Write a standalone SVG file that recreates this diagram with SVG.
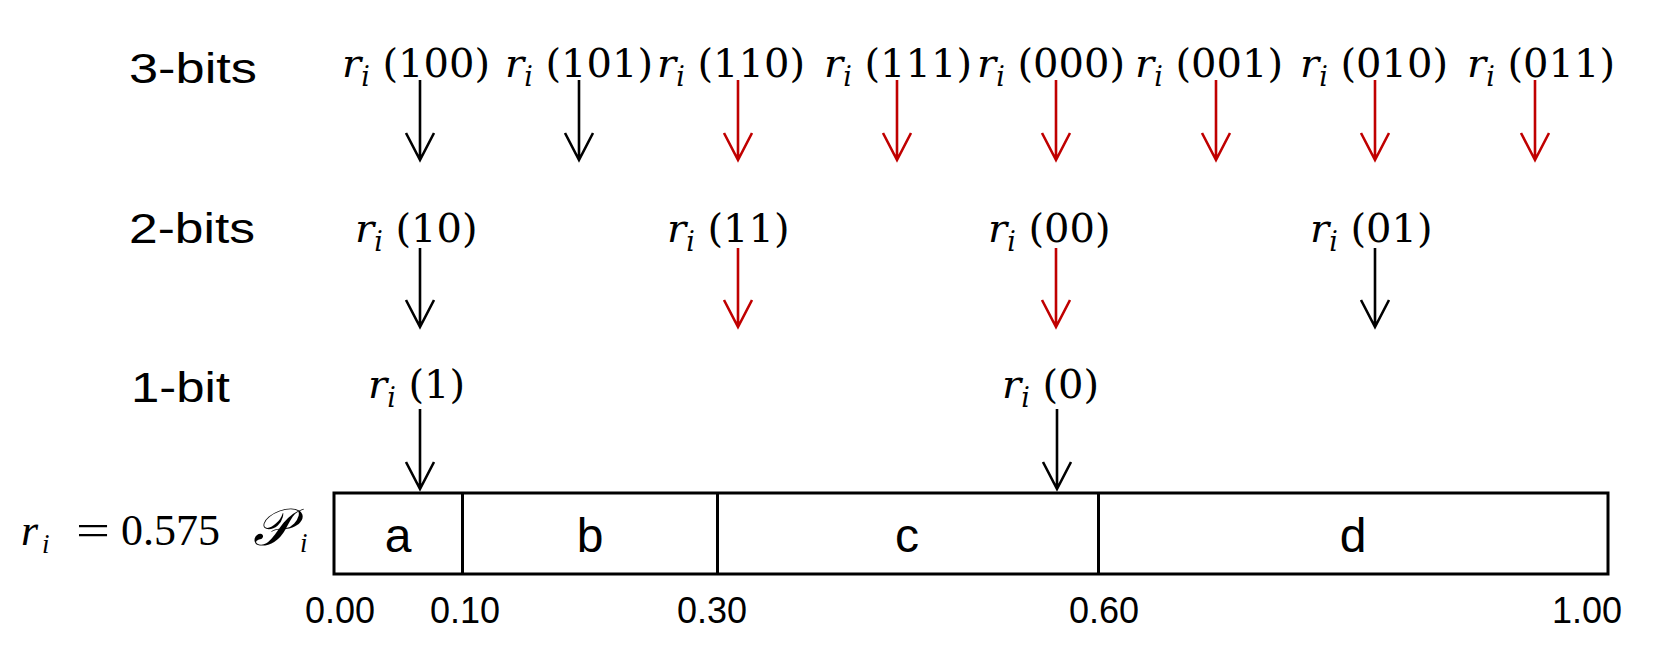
<svg xmlns="http://www.w3.org/2000/svg" width="1661" height="655" viewBox="0 0 1661 655">
<style>
.bg{fill:#ffffff}
.lbl{font-family:"Liberation Sans",Arial,sans-serif;font-size:43px;fill:#000}
.m{font-family:"DejaVu Serif","Liberation Serif",serif;font-size:40px;fill:#000}
.it{font-style:italic}
.sub{font-size:27px;font-style:italic}
.seg{font-family:"Liberation Sans",Arial,sans-serif;font-size:48px;fill:#000;text-anchor:middle}
.tick{font-family:"Liberation Sans",Arial,sans-serif;font-size:36px;fill:#000;text-anchor:middle}
.tex{font-family:"Liberation Serif","DejaVu Serif",serif;font-size:44px;fill:#000}
.box{fill:none;stroke:#000;stroke-width:3}
.ab{fill:none;stroke:#000;stroke-width:2.6;stroke-linejoin:miter}
.ar{fill:none;stroke:#C00000;stroke-width:2.6;stroke-linejoin:miter}
</style>
<rect class="bg" x="0" y="0" width="1661" height="655"/>

<g id="row-labels">
  <text id="lbl3" class="lbl" x="129" y="83" textLength="128" lengthAdjust="spacingAndGlyphs">3-bits</text>
  <text id="lbl2" class="lbl" x="129" y="243" textLength="126" lengthAdjust="spacingAndGlyphs">2-bits</text>
  <text id="lbl1" class="lbl" x="131" y="402" textLength="99" lengthAdjust="spacingAndGlyphs">1-bit</text>
</g>

<g id="n3-100"><text class="m" x="342" y="77"><tspan class="it">r</tspan><tspan class="sub" dy="9">i</tspan><tspan dy="-9"> (100)</tspan></text></g>
<g id="n3-101"><text class="m" x="505" y="77"><tspan class="it">r</tspan><tspan class="sub" dy="9">i</tspan><tspan dy="-9"> (101)</tspan></text></g>
<g id="n3-110"><text class="m" x="657" y="77"><tspan class="it">r</tspan><tspan class="sub" dy="9">i</tspan><tspan dy="-9"> (110)</tspan></text></g>
<g id="n3-111"><text class="m" x="824" y="77"><tspan class="it">r</tspan><tspan class="sub" dy="9">i</tspan><tspan dy="-9"> (111)</tspan></text></g>
<g id="n3-000"><text class="m" x="977" y="77"><tspan class="it">r</tspan><tspan class="sub" dy="9">i</tspan><tspan dy="-9"> (000)</tspan></text></g>
<g id="n3-001"><text class="m" x="1135" y="77"><tspan class="it">r</tspan><tspan class="sub" dy="9">i</tspan><tspan dy="-9"> (001)</tspan></text></g>
<g id="n3-010"><text class="m" x="1300" y="77"><tspan class="it">r</tspan><tspan class="sub" dy="9">i</tspan><tspan dy="-9"> (010)</tspan></text></g>
<g id="n3-011"><text class="m" x="1467" y="77"><tspan class="it">r</tspan><tspan class="sub" dy="9">i</tspan><tspan dy="-9"> (011)</tspan></text></g>

<g id="n2-10"><text class="m" x="355" y="242"><tspan class="it">r</tspan><tspan class="sub" dy="9">i</tspan><tspan dy="-9"> (10)</tspan></text></g>
<g id="n2-11"><text class="m" x="667" y="242"><tspan class="it">r</tspan><tspan class="sub" dy="9">i</tspan><tspan dy="-9"> (11)</tspan></text></g>
<g id="n2-00"><text class="m" x="988" y="242"><tspan class="it">r</tspan><tspan class="sub" dy="9">i</tspan><tspan dy="-9"> (00)</tspan></text></g>
<g id="n2-01"><text class="m" x="1310" y="242"><tspan class="it">r</tspan><tspan class="sub" dy="9">i</tspan><tspan dy="-9"> (01)</tspan></text></g>

<g id="n1-1"><text class="m" x="368" y="398"><tspan class="it">r</tspan><tspan class="sub" dy="9">i</tspan><tspan dy="-9"> (1)</tspan></text></g>
<g id="n1-0"><text class="m" x="1002" y="398"><tspan class="it">r</tspan><tspan class="sub" dy="9">i</tspan><tspan dy="-9"> (0)</tspan></text></g>

<g id="ri-value"><text class="tex" y="545"><tspan class="it" x="21">r</tspan><tspan class="sub" x="42" dy="8">i</tspan><tspan x="76" dy="-8" textLength="34" lengthAdjust="spacingAndGlyphs">=</tspan><tspan x="121">0.575</tspan></text></g>
<g id="P-label"><text class="tex" y="545"><tspan x="253" font-size="52" font-style="italic">𝒫</tspan><tspan class="sub" x="300" dy="7">i</tspan></text></g>

<g id="bar">
  <rect class="box" x="334" y="493" width="1274" height="81"/>
  <line class="box" x1="462.5" y1="493" x2="462.5" y2="574"/>
  <line class="box" x1="717.5" y1="493" x2="717.5" y2="574"/>
  <line class="box" x1="1098.5" y1="493" x2="1098.5" y2="574"/>
</g>
<g id="seg-a"><text class="seg" x="398" y="552">a</text></g>
<g id="seg-b"><text class="seg" x="590" y="552">b</text></g>
<g id="seg-c"><text class="seg" x="907" y="552">c</text></g>
<g id="seg-d"><text class="seg" x="1353" y="552">d</text></g>

<g id="ticks">
  <text class="tick" x="340" y="623">0.00</text>
  <text class="tick" x="465" y="623">0.10</text>
  <text class="tick" x="712" y="623">0.30</text>
  <text class="tick" x="1104" y="623">0.60</text>
  <text class="tick" x="1587" y="623">1.00</text>
</g>

<g id="connectors">
  <path class="ab" d="M420 80V160M406 133L420 160L434 133"/>
  <path class="ab" d="M579 80V160M565 133L579 160L593 133"/>
  <path class="ar" d="M738 80V160M724 133L738 160L752 133"/>
  <path class="ar" d="M897 80V160M883 133L897 160L911 133"/>
  <path class="ar" d="M1056 80V160M1042 133L1056 160L1070 133"/>
  <path class="ar" d="M1216 80V160M1202 133L1216 160L1230 133"/>
  <path class="ar" d="M1375 80V160M1361 133L1375 160L1389 133"/>
  <path class="ar" d="M1535 80V160M1521 133L1535 160L1549 133"/>

  <path class="ab" d="M420 248V327M406 300L420 327L434 300"/>
  <path class="ar" d="M738 248V327M724 300L738 327L752 300"/>
  <path class="ar" d="M1056 248V327M1042 300L1056 327L1070 300"/>
  <path class="ab" d="M1375 248V327M1361 300L1375 327L1389 300"/>

  <path class="ab" d="M420 409V489M406 462L420 489L434 462"/>
  <path class="ab" d="M1057 409V489M1043 462L1057 489L1071 462"/>
</g>
</svg>
